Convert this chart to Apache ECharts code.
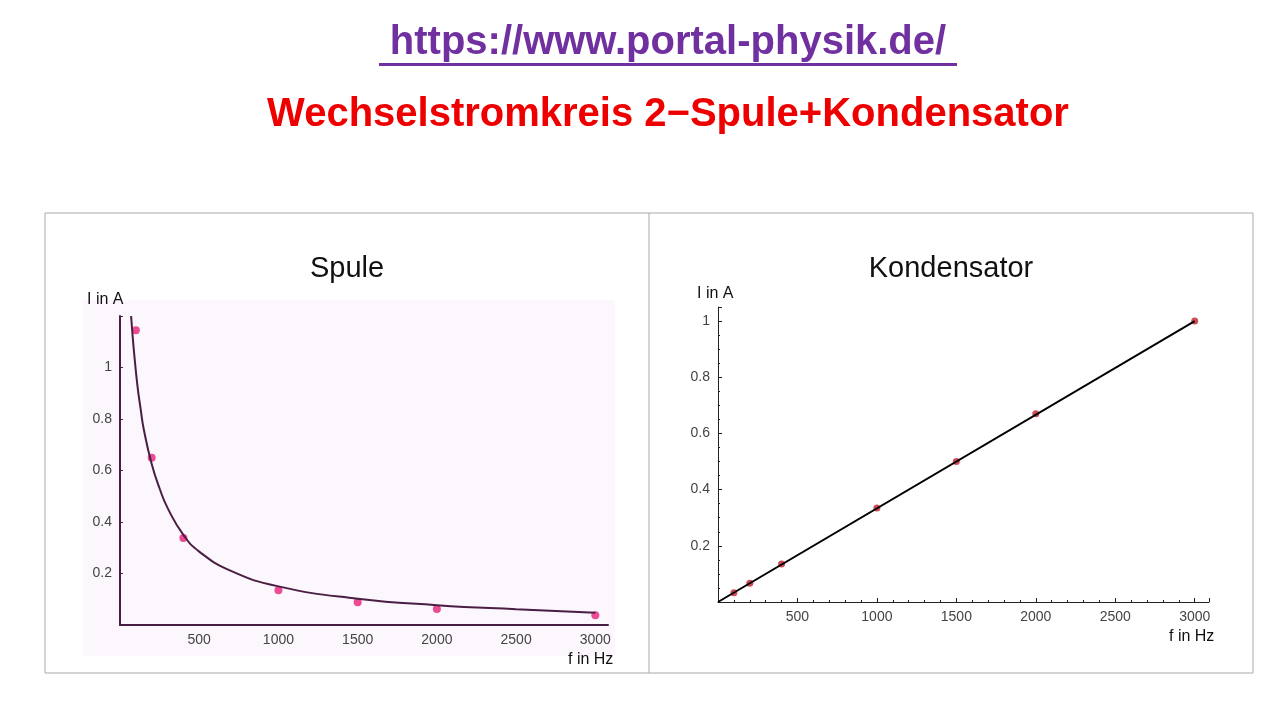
<!DOCTYPE html>
<html><head><meta charset="utf-8">
<script src="https://cdn.jsdelivr.net/npm/echarts@6/dist/echarts.min.js"></script>
<style>html,body{margin:0;padding:0;background:#fff}#c{width:1280px;height:720px}</style>
</head><body><div id="c"></div>
<script>
const spuleF = [100, 200, 400, 1000, 1500, 2000, 3000];
const spuleI = [1.145, 0.65, 0.338, 0.135, 0.088, 0.062, 0.038];
const spuleFitF = [70, 80, 90, 110, 130, 150, 200, 250, 300, 400, 500, 700, 1000, 1500, 2000, 2500, 3000];
const spuleFitI = [1.2, 1.12, 1.05, 0.93, 0.84, 0.76, 0.625, 0.53, 0.455, 0.35, 0.285, 0.21, 0.15, 0.102, 0.077, 0.061, 0.048];
const kondF = [100, 200, 400, 1000, 1500, 2000, 3000];
const kondI = [0.033, 0.067, 0.135, 0.335, 0.5, 0.67, 1.0];
const kondFitF = [0, 3000];
const kondFitI = [0, 1.0];
const xTicks = [500, 1000, 1500, 2000, 2500, 3000];
const yTicks = [0.2, 0.4, 0.6, 0.8, 1];

const zip = (a, b) => a.map((v, i) => [v, b[i]]);
const fmtX = v => xTicks.includes(v) ? String(v) : '';
const fmtY = v => yTicks.some(t => Math.abs(t - v) < 1e-9) ? String(v) : '';
const font = 'Liberation Sans, Arial, sans-serif';

const chart = echarts.init(document.getElementById('c'));
chart.setOption({
  animation: false,
  backgroundColor: '#fff',
  grid: [
    {left: 120, top: 316, width: 488, height: 309},
    {left: 718, top: 307, width: 491, height: 295}
  ],
  xAxis: [
    {gridIndex: 0, type: 'value', min: 0, max: 3080, interval: 500,
     axisLine: {lineStyle: {color: '#4a1e44', width: 2}}, axisTick: {show: false},
     splitLine: {show: false},
     axisLabel: {formatter: fmtX, color: '#444', fontSize: 14, fontFamily: font, showMinLabel: false, showMaxLabel: true}},
    {gridIndex: 1, type: 'value', min: 0, max: 3090, interval: 500,
     axisLine: {lineStyle: {color: '#222', width: 1}}, axisTick: {show: true, inside: true, length: 4, lineStyle: {color: '#222'}},
     minorTick: {show: true, splitNumber: 5, length: 2, lineStyle: {color: '#222'}},
     splitLine: {show: false},
     axisLabel: {formatter: fmtX, color: '#444', fontSize: 14, fontFamily: font}}
  ],
  yAxis: [
    {gridIndex: 0, type: 'value', min: 0, max: 1.2, interval: 0.2,
     axisLine: {onZero: false, lineStyle: {color: '#4a1e44', width: 2}}, axisTick: {show: true, inside: true, length: 3, lineStyle: {color: '#4a1e44'}},
     splitLine: {show: false},
     axisLabel: {formatter: fmtY, color: '#444', fontSize: 14, fontFamily: font, showMinLabel: false}},
    {gridIndex: 1, type: 'value', min: 0, max: 1.05, interval: 0.2,
     axisLine: {lineStyle: {color: '#222', width: 1}}, axisTick: {show: true, inside: true, length: 4, lineStyle: {color: '#222'}},
     minorTick: {show: true, splitNumber: 4, length: 2, lineStyle: {color: '#222'}},
     splitLine: {show: false},
     axisLabel: {formatter: fmtY, color: '#444', fontSize: 14, fontFamily: font, showMinLabel: false}}
  ],
  graphic: [
    {type: 'rect', shape: {x: 45, y: 213, width: 1208, height: 460}, style: {fill: 'none', stroke: '#aaa', lineWidth: 1}, z: -10},
    {type: 'rect', shape: {x: 83, y: 300, width: 532, height: 356}, style: {fill: '#fcf7fc'}, z: -9},
    {type: 'line', shape: {x1: 649, y1: 213, x2: 649, y2: 673}, style: {stroke: '#aaa', lineWidth: 1}},
    {type: 'text', x: 668, y: 23, style: {text: 'https://www.portal-physik.de/', fill: '#7030a0', font: 'bold 40px ' + font, textAlign: 'center'}},
    {type: 'rect', shape: {x: 379, y: 63, width: 578, height: 3}, style: {fill: '#7030a0'}},
    {type: 'text', x: 668, y: 95, style: {text: 'Wechselstromkreis 2\u2212Spule+Kondensator', fill: '#ee0000', font: 'bold 40px ' + font, textAlign: 'center'}},
    {type: 'text', x: 347, y: 254, style: {text: 'Spule', fill: '#111', font: '29px ' + font, textAlign: 'center'}},
    {type: 'text', x: 951, y: 254, style: {text: 'Kondensator', fill: '#111', font: '29px ' + font, textAlign: 'center'}},
    {type: 'text', x: 87, y: 292, style: {text: 'I in A', fill: '#111', font: '16px ' + font}},
    {type: 'text', x: 568, y: 652, style: {text: 'f in Hz', fill: '#111', font: '16px ' + font}},
    {type: 'text', x: 697, y: 286, style: {text: 'I in A', fill: '#111', font: '16px ' + font}},
    {type: 'text', x: 1169, y: 629, style: {text: 'f in Hz', fill: '#111', font: '16px ' + font}}
  ],
  series: [
    {type: 'line', xAxisIndex: 0, yAxisIndex: 0, data: zip(spuleFitF, spuleFitI), smooth: true, symbol: 'none',
     lineStyle: {color: '#4a1e44', width: 2}},
    {type: 'scatter', xAxisIndex: 0, yAxisIndex: 0, data: zip(spuleF, spuleI), symbolSize: 8,
     itemStyle: {color: '#e8207a'}},
    {type: 'line', xAxisIndex: 1, yAxisIndex: 1, data: zip(kondFitF, kondFitI), symbol: 'none',
     lineStyle: {color: '#000', width: 2}},
    {type: 'scatter', xAxisIndex: 1, yAxisIndex: 1, data: zip(kondF, kondI), symbolSize: 7,
     itemStyle: {color: '#c0202c'}}
  ]
});
</script></body></html>
